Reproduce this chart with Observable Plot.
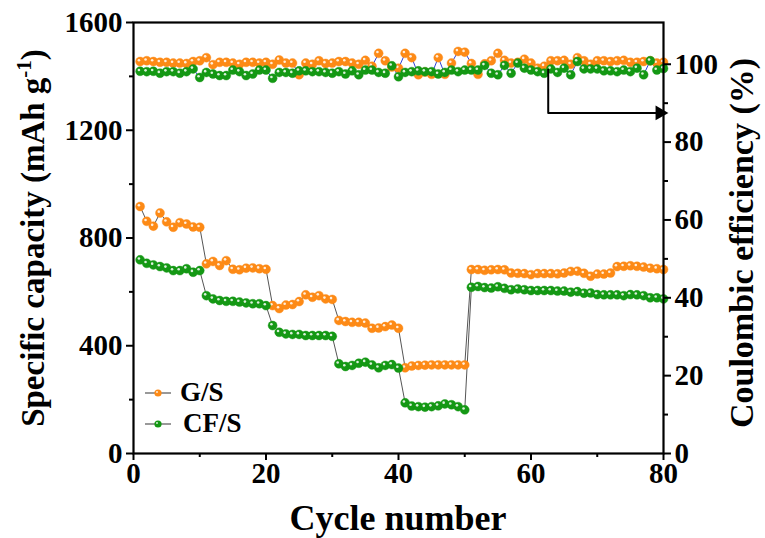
<!DOCTYPE html>
<html>
<head>
<meta charset="utf-8">
<script src="https://cdn.jsdelivr.net/npm/d3@7"></script>
<script src="https://cdn.jsdelivr.net/npm/@observablehq/plot@0.6"></script>
<style>
  html, body { margin: 0; padding: 0; background: #fff; }
  #chart svg { display: block; }
  #chart svg text { font-family: 'Liberation Serif', 'Times New Roman', serif; }
</style>
</head>
<body>
<div id="chart"></div>
<script>
// ---- data ----
const cycles = d3.range(1, 81);

const gsCapacity = [
  917, 862, 844, 893, 860, 840, 857, 852, 841, 840,
  704, 713, 698, 716, 684, 682, 688, 689, 686, 684,
  549, 538, 551, 553, 564, 589, 580, 586, 574, 572,
  494, 490, 487, 487, 484, 465, 466, 471, 477, 465,
  318, 325, 327, 328, 329, 329, 329, 329, 329, 329,
  683, 683, 680, 682, 683, 682, 670, 669, 668, 664,
  668, 668, 668, 667, 670, 676, 677, 669, 658, 666,
  666, 670, 694, 695, 697, 695, 692, 688, 686, 683
];
const cfCapacity = [
  719, 706, 700, 694, 689, 679, 679, 686, 673, 679,
  586, 574, 568, 565, 565, 562, 559, 556, 556, 549,
  475, 450, 444, 442, 442, 438, 438, 438, 438, 435,
  333, 323, 327, 335, 339, 329, 318, 327, 330, 317,
  188, 176, 174, 172, 174, 177, 184, 181, 174, 162,
  617, 620, 616, 614, 619, 613, 608, 611, 608, 605,
  605, 605, 605, 603, 603, 599, 601, 595, 596, 590,
  589, 589, 589, 586, 590, 589, 586, 578, 578, 574
];
const gsCE = [
  100.7, 100.9, 100.7, 100.5, 100.5, 100.3, 100.3, 100.2, 100.7, 100.9,
  101.7, 99.9, 100.5, 100.5, 100.3, 100.0, 100.5, 100.5, 100.3, 100.5,
  100.0, 101.1, 100.3, 100.3, 97.3, 100.3, 100.0, 100.9, 100.2, 100.3,
  100.7, 100.7, 100.3, 100.0, 101.0, 99.5, 102.8, 100.9, 99.3, 99.0,
  102.8, 101.7, 97.3, 98.0, 97.4, 101.7, 97.4, 100.3, 103.3, 103.1,
  100.2, 97.4, 100.1, 100.9, 102.8, 101.0, 100.3, 100.5, 101.3, 100.3,
  99.0, 99.5, 100.9, 100.9, 101.0, 100.0, 101.7, 100.9, 100.0, 100.9,
  100.9, 100.7, 100.9, 101.0, 100.5, 100.5, 100.7, 100.9, 100.3, 100.5
];
const cfCE = [
  98.2, 98.1, 98.2, 97.7, 98.1, 98.1, 97.7, 98.1, 98.8, 96.6,
  97.9, 97.5, 97.1, 97.1, 98.5, 98.1, 97.1, 97.5, 98.5, 98.5,
  96.4, 97.9, 97.9, 97.7, 98.3, 98.3, 98.1, 98.1, 97.9, 97.7,
  98.1, 97.5, 98.3, 97.3, 98.5, 98.5, 97.9, 97.7, 99.6, 96.8,
  97.9, 98.1, 98.3, 98.1, 98.1, 97.5, 97.9, 98.5, 98.1, 98.5,
  98.5, 98.5, 99.7, 97.7, 97.3, 99.7, 97.7, 100.3, 99.0, 98.5,
  98.1, 97.7, 98.8, 97.9, 99.0, 97.3, 100.7, 98.8, 98.8, 98.8,
  98.3, 98.3, 98.1, 98.5, 98.1, 99.0, 97.3, 100.9, 98.5, 98.9
];

const xMajor = [0, 20, 40, 60, 80];
const xMinor = [10, 30, 50, 70];
const yMajor = [0, 400, 800, 1200, 1600];
const yMinor = [200, 600, 1000, 1400];
const ceMajor = [0, 20, 40, 60, 80, 100];
const ceMinor = [10, 30, 50, 70, 90];
const arrowPath = [{c: 62.6, e: 98.6}, {c: 62.6, e: 87.5}, {c: 79.3, e: 87.5}];

const seriesNames = ["G/S", "CF/S"];
const colors = {"G/S": "#fd8a16", "CF/S": "#149814"};

// right axis (CE, %) is mapped onto the left capacity scale
const K = 14.45;

const capRows = [];
const ceRows = [];
cycles.forEach((c, i) => {
  capRows.push({cycle: c, value: gsCapacity[i], series: "G/S"});
  capRows.push({cycle: c, value: cfCapacity[i], series: "CF/S"});
  ceRows.push({cycle: c, value: gsCE[i] * K, series: "G/S"});
  ceRows.push({cycle: c, value: cfCE[i] * K, series: "CF/S"});
});
const gsCap = capRows.filter(d => d.series === "G/S");
const cfCap = capRows.filter(d => d.series === "CF/S");
const gsCe = ceRows.filter(d => d.series === "G/S");
const cfCe = ceRows.filter(d => d.series === "CF/S");

const font = "'Liberation Serif', 'Times New Roman', serif";
const tickFont = 29;

function dots(data, color) {
  return [
    Plot.dot(data, {x: "cycle", y: "value", r: 4.5, fill: color, stroke: color, strokeWidth: 0.4}),
    Plot.dot(data, {x: "cycle", y: "value", r: 1.3, fill: "white", fillOpacity: 0.85, dx: -1.2, dy: -1.3})
  ];
}

const axisText = {fontSize: tickFont, fontWeight: "bold", fontFamily: font, fill: "black", fontVariant: "normal"};

const plot = Plot.plot({
  width: 765,
  height: 538,
  marginLeft: 133,
  marginRight: 102,
  marginTop: 22,
  marginBottom: 85,
  style: {fontFamily: font, background: "white", overflow: "visible"},
  x: {domain: [0, 80]},
  y: {domain: [0, 1600]},
  marks: [
    // capacity connecting lines
    Plot.line(gsCap, {x: "cycle", y: "value", stroke: "#555", strokeWidth: 1}),
    Plot.line(cfCap, {x: "cycle", y: "value", stroke: "#555", strokeWidth: 1}),
    // CE connecting lines
    Plot.line(gsCe, {x: "cycle", y: "value", stroke: "#2a3fd6", strokeWidth: 1}),
    Plot.line(cfCe, {x: "cycle", y: "value", stroke: "#2a3fd6", strokeWidth: 1}),
    ...dots(gsCe, colors["G/S"]),
    ...dots(cfCe, colors["CF/S"]),
    ...dots(gsCap, colors["G/S"]),
    ...dots(cfCap, colors["CF/S"]),
    // arrow pointing to right axis
    Plot.line(arrowPath, {x: "c", y: d => d.e * K, stroke: "black", strokeWidth: 2}),
    Plot.dot([arrowPath[2]], {x: "c", y: d => d.e * K, symbol: "triangle", r: 5.5, rotate: 90, fill: "black", dx: 1}),
    // axes
    Plot.axisX({ticks: xMajor, tickSize: 7, tickPadding: 2, strokeWidth: 2, label: null,
      ...axisText, tickFormat: d => String(d)}),
    Plot.axisX({ticks: xMinor, tickSize: 4, strokeWidth: 2, label: null, text: null}),
    Plot.axisY({ticks: yMajor, tickSize: 7, tickPadding: 4, strokeWidth: 2, label: null,
      ...axisText, tickFormat: d => String(d)}),
    Plot.axisY({ticks: yMinor, tickSize: 4, strokeWidth: 2, label: null, text: null}),
    Plot.axisY({anchor: "right", ticks: ceMajor.map(v => v * K), tickSize: 7, tickPadding: 4,
      strokeWidth: 2, label: null, ...axisText,
      tickFormat: v => String(Math.round(v / K))}),
    Plot.axisY({anchor: "right", ticks: ceMinor.map(v => v * K), tickSize: 4, strokeWidth: 2,
      label: null, text: null}),
    Plot.frame({stroke: "black", strokeWidth: 2.2})
  ]
});

const svg = d3.select(plot);

// axis titles
svg.append("text")
  .attr("x", 398).attr("y", 530)
  .attr("text-anchor", "middle")
  .style("font-family", font).attr("font-weight", "bold").attr("font-size", 36)
  .attr("fill", "black")
  .text("Cycle number");

const lt = svg.append("text")
  .attr("transform", "translate(44,238) rotate(-90)")
  .attr("text-anchor", "middle")
  .style("font-family", font).attr("font-weight", "bold").attr("font-size", 33)
  .attr("fill", "black");
lt.append("tspan").text("Specific capacity (mAh g");
lt.append("tspan").attr("font-size", 21).attr("dy", -13).text("-1");
lt.append("tspan").attr("dy", 13).text(")");

svg.append("text")
  .attr("transform", "translate(753,243) rotate(-90)")
  .attr("text-anchor", "middle")
  .style("font-family", font).attr("font-weight", "bold").attr("font-size", 34)
  .attr("fill", "black")
  .text("Coulombic efficiency (%)");

// legend
seriesNames.forEach((name, i) => {
  const y = 393 + i * 31;
  const g = svg.append("g");
  g.append("line").attr("x1", 145).attr("x2", 171).attr("y1", y).attr("y2", y)
    .attr("stroke", "#555").attr("stroke-width", 1.2);
  g.append("circle").attr("cx", 158).attr("cy", y).attr("r", 3.6).attr("fill", colors[name]);
  g.append("circle").attr("cx", 157).attr("cy", y - 1).attr("r", 1).attr("fill", "white").attr("fill-opacity", 0.8);
  g.append("text").attr("x", 180 + (i === 1 ? 3 : 0)).attr("y", y + 8)
    .attr("text-anchor", "start")
    .style("font-family", font).attr("font-weight", "bold").attr("font-size", 27)
    .attr("fill", "black").text(name);
});

document.getElementById("chart").appendChild(plot);
</script>
</body>
</html>
